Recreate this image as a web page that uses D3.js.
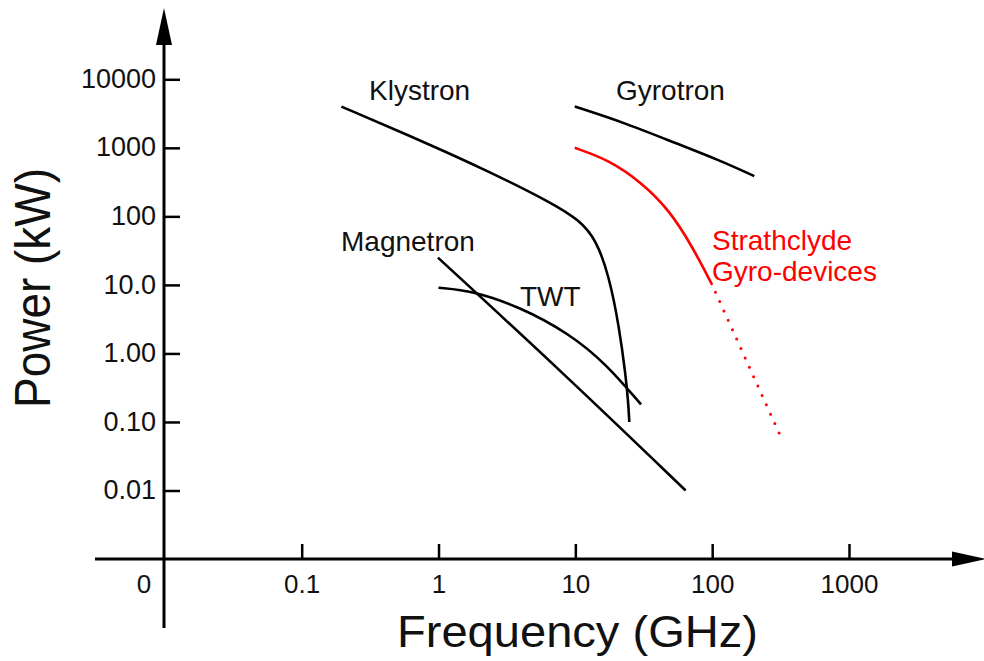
<!DOCTYPE html>
<html><head><meta charset="utf-8">
<script src="https://cdn.jsdelivr.net/npm/d3@7/dist/d3.min.js"></script>
<style>body{margin:0;background:#fff} text{font-family:"Liberation Sans",Arial,Helvetica,sans-serif;fill:#111}</style>
</head><body><svg id="c" width="984" height="661"></svg>
<script>
// ---- data ----
const xTickValues = [0.1, 1, 10, 100, 1000];
const xTickLabels = ["0.1", "1", "10", "100", "1000"];
const yTickValues = [0.01, 0.1, 1, 10, 100, 1000, 10000];
const yTickLabels = ["0.01", "0.10", "1.00", "10.0", "100", "1000", "10000"];
const originLabel = "0";
const xTitle = "Frequency (GHz)";
const yTitle = "Power (kW)";

// [frequency GHz, power kW]
const klystron = [[0.195,4000],[0.727,1300],[2.23,474],[6.83,155],[10.7,88],[14.2,45.8],[17.7,13.1],[20.9,2.44],[23.4,0.455],[24.3,0.2],[24.8,0.1]];
const gyrotron = [[9.9,4000],[23.5,2280],[54.3,1164],[112,664],[203,387]];
const strathclyde = [[9.9,1000],[17.7,664],[31,303],[48.5,124],[71.8,36],[100,10]];
const strathclydeExtrap = [[100,10],[317,0.061]];
const magnetron = [[0.99,25],[8.9,0.44],[64,0.01]];
const twt = [[1,9.1],[1.78,8.2],[3.9,4.8],[9.0,1.96],[16.7,0.71],[30.2,0.18]];

const curveLabels = [
  {text:"Klystron", x:369, y:100, color:"#111"},
  {text:"Gyrotron", x:616, y:100, color:"#111"},
  {text:"Magnetron", x:341, y:251, color:"#111"},
  {text:"TWT", x:520, y:306, color:"#111"},
  {text:"Strathclyde", x:712, y:250, color:"#ff0000"},
  {text:"Gyro-devices", x:712, y:281, color:"#ff0000"}
];

// ---- layout ----
const svg = d3.select("#c");
const x = d3.scaleLog().domain([0.1, 1000]).range([301.7, 849]);
const y = d3.scaleLog().domain([0.01, 10000]).range([490.5, 79.3]);
const axisX = 164, axisY = 559;

// axis lines with arrows
svg.append("line").attr("x1", axisX).attr("x2", axisX).attr("y1", 628).attr("y2", 44)
  .attr("stroke", "#000").attr("stroke-width", 3);
svg.append("path").attr("d", `M${axisX},8 L${axisX+8},45 L${axisX-8},45 Z`).attr("fill", "#000");
svg.append("line").attr("x1", 95).attr("x2", 953).attr("y1", axisY).attr("y2", axisY)
  .attr("stroke", "#000").attr("stroke-width", 3);
svg.append("path").attr("d", `M986,${axisY} L952,${axisY-7.5} L952,${axisY+7.5} Z`).attr("fill", "#000");

// y ticks
const gy = svg.append("g").attr("transform", `translate(${axisX},0)`)
  .call(d3.axisLeft(y).tickValues(yTickValues).tickSizeInner(-16).tickSizeOuter(0).tickPadding(8)
    .tickFormat((d,i) => yTickLabels[i]));
gy.select(".domain").remove();
gy.selectAll(".tick line").attr("stroke", "#000").attr("stroke-width", 2.5);
gy.selectAll(".tick text").attr("font-size", 27).attr("fill", "#111").attr("dy", "0.3em")
  .style("font-family", '"Liberation Sans",Arial,sans-serif');

// x ticks
const gx = svg.append("g").attr("transform", `translate(0,${axisY})`)
  .call(d3.axisBottom(x).tickValues(xTickValues).tickSizeInner(-15).tickSizeOuter(0).tickPadding(16)
    .tickFormat((d,i) => xTickLabels[i]));
gx.select(".domain").remove();
gx.selectAll(".tick line").attr("stroke", "#000").attr("stroke-width", 2.5);
gx.selectAll(".tick text").attr("font-size", 26).attr("fill", "#111")
  .style("font-family", '"Liberation Sans",Arial,sans-serif');

svg.append("text").attr("x", 144).attr("y", 593).attr("text-anchor", "middle")
  .attr("font-size", 26).text(originLabel);

// titles
svg.append("text").attr("x", 397).attr("y", 647).attr("font-size", 44)
  .attr("textLength", 361).attr("lengthAdjust", "spacingAndGlyphs").text(xTitle);
svg.append("text").attr("transform", "translate(50,288) rotate(-90)").attr("text-anchor", "middle")
  .attr("font-size", 50).attr("textLength", 240).attr("lengthAdjust", "spacingAndGlyphs").text(yTitle);

// curves
const line = d3.line().x(d => x(d[0])).y(d => y(d[1])).curve(d3.curveBasis);
const series = [
  {data: klystron, color: "#000"},
  {data: gyrotron, color: "#000"},
  {data: magnetron, color: "#000"},
  {data: twt, color: "#000"},
  {data: strathclyde, color: "#ff0000"}
];
svg.selectAll("path.curve").data(series).join("path").attr("class", "curve")
  .attr("d", d => line(d.data)).attr("fill", "none").attr("stroke", d => d.color)
  .attr("stroke-width", 2.6);
svg.append("path").attr("d", line(strathclydeExtrap)).attr("fill", "none")
  .attr("stroke", "#ff0000").attr("stroke-width", 3).attr("stroke-linecap", "round")
  .attr("stroke-dasharray", "0 10.3").attr("stroke-dashoffset", -8);

// curve labels
svg.selectAll("text.lbl").data(curveLabels).join("text").attr("class", "lbl")
  .attr("x", d => d.x).attr("y", d => d.y).attr("font-size", 28)
  .style("fill", d => d.color).text(d => d.text);
</script></body></html>
